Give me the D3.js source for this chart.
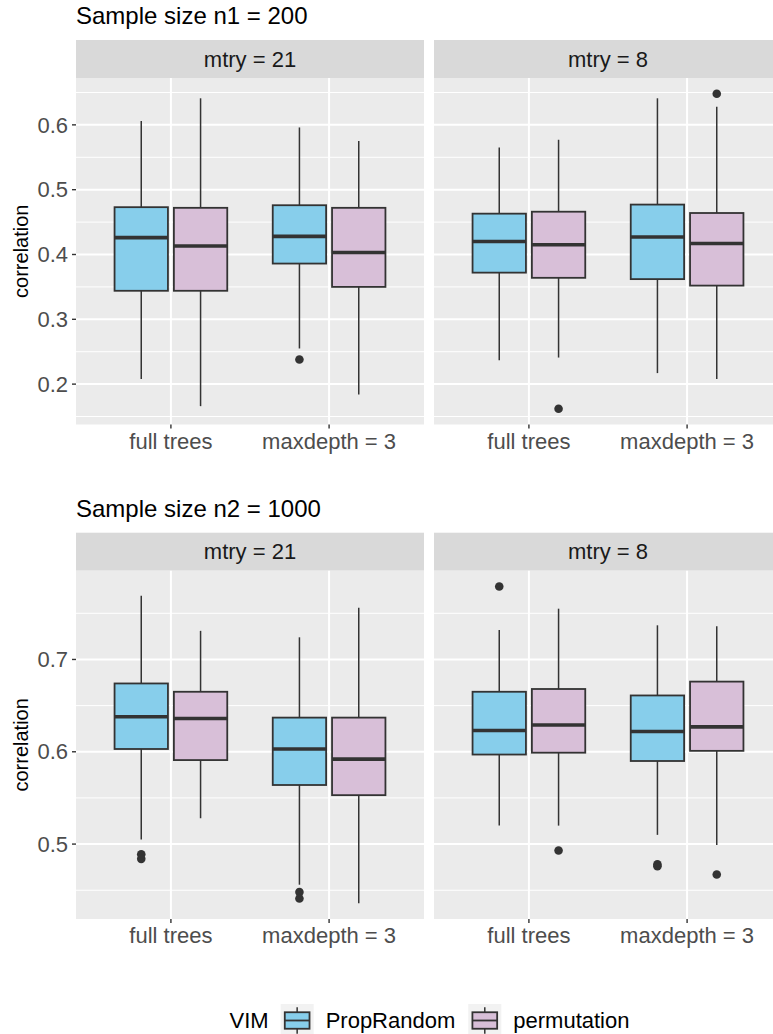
<!DOCTYPE html>
<html>
<head>
<meta charset="utf-8">
<script src="https://cdn.jsdelivr.net/npm/d3@7"></script>
<style>
  html, body { margin: 0; padding: 0; background: #ffffff; }
  svg { display: block; font-family: "Liberation Sans", Arial, Helvetica, sans-serif; }
</style>
</head>
<body>
<svg id="chart" width="773" height="1034"></svg>
<script>
// ---- data -------------------------------------------------------------
const facets = ["mtry = 21", "mtry = 8"];
const treeTypes = ["full trees", "maxdepth = 3"];
const vims = ["PropRandom", "permutation"];
const vimColors = ["#87CEEB", "#D8BFD8"];

// Box summaries [lower whisker, Q1, median, Q3, upper whisker],
// ordered facet -> tree type -> VIM
const statsN1 = [
  [0.208, 0.344, 0.426, 0.473, 0.606],
  [0.166, 0.344, 0.413, 0.472, 0.641],
  [0.255, 0.386, 0.428, 0.476, 0.596],
  [0.184, 0.350, 0.403, 0.472, 0.575],
  [0.237, 0.372, 0.420, 0.463, 0.565],
  [0.241, 0.364, 0.415, 0.466, 0.577],
  [0.217, 0.362, 0.427, 0.477, 0.641],
  [0.208, 0.352, 0.417, 0.464, 0.628]
];
const outliersN1 = [[], [], [0.238], [], [], [0.162], [], [0.648]];
const yTicksN1 = [0.2, 0.3, 0.4, 0.5, 0.6];

const statsN2 = [
  [0.505, 0.603, 0.638, 0.674, 0.769],
  [0.528, 0.591, 0.636, 0.665, 0.731],
  [0.456, 0.564, 0.603, 0.637, 0.724],
  [0.436, 0.553, 0.592, 0.637, 0.756],
  [0.520, 0.597, 0.623, 0.665, 0.732],
  [0.520, 0.599, 0.629, 0.668, 0.755],
  [0.510, 0.590, 0.622, 0.661, 0.737],
  [0.499, 0.601, 0.627, 0.676, 0.736]
];
const outliersN2 = [[0.489, 0.484], [], [0.448, 0.441], [], [0.779], [0.493], [0.478, 0.476], [0.467]];
const yTicksN2 = [0.5, 0.6, 0.7];

const sectionTitles = ["Sample size n1 = 200", "Sample size n2 = 1000"];

// ---- layout -------------------------------------------------------------
const svg = d3.select("#chart");
const panelW = 348;
const panelLefts = [76, 434];
const sections = [
  { title: sectionTitles[0], stats: statsN1, outliers: outliersN1, ticks: yTicksN1,
    titleY: 24, stripTop: 40, stripBottom: 78, panelBottom: 424.5 },
  { title: sectionTitles[1], stats: statsN2, outliers: outliersN2, ticks: yTicksN2,
    titleY: 517, stripTop: 532.7, stripBottom: 570.7, panelBottom: 919 }
];

const INK = "#333333";

function drawSection(sec) {
  const g = svg.append("g");

  // y range from the data with a 5% expansion on both sides
  const all = sec.stats.flat().concat(sec.outliers.flat());
  const [lo, hi] = d3.extent(all);
  const pad = (hi - lo) * 0.05;
  const y = d3.scaleLinear().domain([lo - pad, hi + pad]).range([sec.panelBottom, sec.stripBottom]);

  // minor breaks halfway between major ticks, extended by one step each side
  const step = sec.ticks[1] - sec.ticks[0];
  const minors = [];
  for (let i = -1; i < sec.ticks.length; i++) {
    const v = sec.ticks[0] + (i + 0.5) * step;
    if (v > y.domain()[0] && v < y.domain()[1]) minors.push(v);
  }

  // section title
  g.append("text")
    .attr("x", 76).attr("y", sec.titleY)
    .attr("font-size", 24).attr("fill", "#000")
    .text(sec.title);

  // y axis title
  const midY = (sec.stripBottom + sec.panelBottom) / 2;
  g.append("text")
    .attr("transform", `translate(21,${midY}) rotate(-90)`)
    .attr("text-anchor", "middle").attr("dy", "0.35em")
    .attr("font-size", 20).attr("fill", "#000")
    .text("correlation");

  // y axis tick labels and marks
  const yAxis = g.append("g");
  yAxis.selectAll("text").data(sec.ticks).join("text")
    .attr("x", 68).attr("y", d => y(d)).attr("dy", "0.35em")
    .attr("text-anchor", "end").attr("font-size", 22).attr("fill", "#4D4D4D")
    .text(d => d3.format(".1f")(d));
  yAxis.selectAll("line").data(sec.ticks).join("line")
    .attr("x1", 72).attr("x2", 76)
    .attr("y1", d => y(d)).attr("y2", d => y(d))
    .attr("stroke", INK).attr("stroke-width", 1.4);

  facets.forEach((facet, fi) => {
    const left = panelLefts[fi];
    const x = d3.scalePoint().domain(treeTypes).range([left, left + panelW]).padding(0.6);
    const unit = x.step();
    const dodge = 0.1875 * unit;
    const boxW = 0.3375 * unit;

    const pg = g.append("g");

    // strip
    pg.append("rect")
      .attr("x", left).attr("y", sec.stripTop)
      .attr("width", panelW).attr("height", sec.stripBottom - sec.stripTop)
      .attr("fill", "#D9D9D9");
    pg.append("text")
      .attr("x", left + panelW / 2).attr("y", (sec.stripTop + sec.stripBottom) / 2)
      .attr("dy", "0.35em").attr("text-anchor", "middle")
      .attr("font-size", 22).attr("fill", "#1A1A1A")
      .text(facet);

    // panel background and grid
    pg.append("rect")
      .attr("x", left).attr("y", sec.stripBottom)
      .attr("width", panelW).attr("height", sec.panelBottom - sec.stripBottom)
      .attr("fill", "#EBEBEB");
    pg.selectAll("line.minor").data(minors).join("line").attr("class", "minor")
      .attr("x1", left).attr("x2", left + panelW)
      .attr("y1", d => y(d)).attr("y2", d => y(d))
      .attr("stroke", "#fff").attr("stroke-width", 1);
    pg.selectAll("line.major").data(sec.ticks).join("line").attr("class", "major")
      .attr("x1", left).attr("x2", left + panelW)
      .attr("y1", d => y(d)).attr("y2", d => y(d))
      .attr("stroke", "#fff").attr("stroke-width", 2);
    pg.selectAll("line.vmajor").data(treeTypes).join("line").attr("class", "vmajor")
      .attr("x1", d => x(d)).attr("x2", d => x(d))
      .attr("y1", sec.stripBottom).attr("y2", sec.panelBottom)
      .attr("stroke", "#fff").attr("stroke-width", 2);

    // x axis ticks and labels
    pg.selectAll("line.xtick").data(treeTypes).join("line").attr("class", "xtick")
      .attr("x1", d => x(d)).attr("x2", d => x(d))
      .attr("y1", sec.panelBottom).attr("y2", sec.panelBottom + 4)
      .attr("stroke", INK).attr("stroke-width", 1.4);
    pg.selectAll("text.xlab").data(treeTypes).join("text").attr("class", "xlab")
      .attr("x", d => x(d)).attr("y", sec.panelBottom + 24)
      .attr("text-anchor", "middle").attr("font-size", 22).attr("fill", "#4D4D4D")
      .text(d => d);

    // boxes
    treeTypes.forEach((tt, ti) => {
      vims.forEach((vim, vi) => {
        const idx = fi * 4 + ti * 2 + vi;
        const [wLo, q1, med, q3, wHi] = sec.stats[idx];
        const cx = x(tt) + (vi === 0 ? -dodge : dodge);
        const bg = pg.append("g");
        bg.append("line")
          .attr("x1", cx).attr("x2", cx).attr("y1", y(wHi)).attr("y2", y(q3))
          .attr("stroke", INK).attr("stroke-width", 1.5);
        bg.append("line")
          .attr("x1", cx).attr("x2", cx).attr("y1", y(q1)).attr("y2", y(wLo))
          .attr("stroke", INK).attr("stroke-width", 1.5);
        bg.append("rect")
          .attr("x", cx - boxW / 2).attr("y", y(q3))
          .attr("width", boxW).attr("height", y(q1) - y(q3))
          .attr("fill", vimColors[vi]).attr("stroke", INK).attr("stroke-width", 1.8);
        bg.append("line")
          .attr("x1", cx - boxW / 2).attr("x2", cx + boxW / 2)
          .attr("y1", y(med)).attr("y2", y(med))
          .attr("stroke", INK).attr("stroke-width", 3.6);
        bg.selectAll("circle").data(sec.outliers[idx]).join("circle")
          .attr("cx", cx).attr("cy", d => y(d)).attr("r", 4.3)
          .attr("fill", INK);
      });
    });
  });
}

sections.forEach(drawSection);

// ---- legend -----------------------------------------------------------------
const legY = 1020.5;
const keySize = 33;
const leg = svg.append("g");
let cursor = 0;
const legTitle = leg.append("text")
  .attr("x", 0).attr("y", legY).attr("dy", "0.35em")
  .attr("font-size", 22).attr("fill", "#000").text("VIM");
cursor = legTitle.node().getComputedTextLength() + 12;
vims.forEach((vim, i) => {
  const kx = cursor;
  const ky = legY - keySize / 2;
  const k = leg.append("g");
  k.append("rect").attr("x", kx).attr("y", ky).attr("width", keySize).attr("height", keySize)
    .attr("fill", "#F2F2F2");
  const mid = kx + keySize / 2;
  k.append("line").attr("x1", mid).attr("x2", mid)
    .attr("y1", ky + keySize * 0.1).attr("y2", ky + keySize * 0.9)
    .attr("stroke", INK).attr("stroke-width", 1.5);
  k.append("rect")
    .attr("x", kx + keySize * 0.125).attr("y", ky + keySize * 0.25)
    .attr("width", keySize * 0.75).attr("height", keySize * 0.5)
    .attr("fill", vimColors[i]).attr("stroke", INK).attr("stroke-width", 1.8);
  k.append("line")
    .attr("x1", kx + keySize * 0.125).attr("x2", kx + keySize * 0.875)
    .attr("y1", legY).attr("y2", legY)
    .attr("stroke", INK).attr("stroke-width", 1.8);
  cursor += keySize + 12;
  const t = leg.append("text")
    .attr("x", cursor).attr("y", legY).attr("dy", "0.35em")
    .attr("font-size", 22).attr("fill", "#000").text(vim);
  cursor += t.node().getComputedTextLength() + 13;
});
const legWidth = cursor - 13;
leg.attr("transform", `translate(${429.5 - legWidth / 2},0)`);
</script>
</body>
</html>
